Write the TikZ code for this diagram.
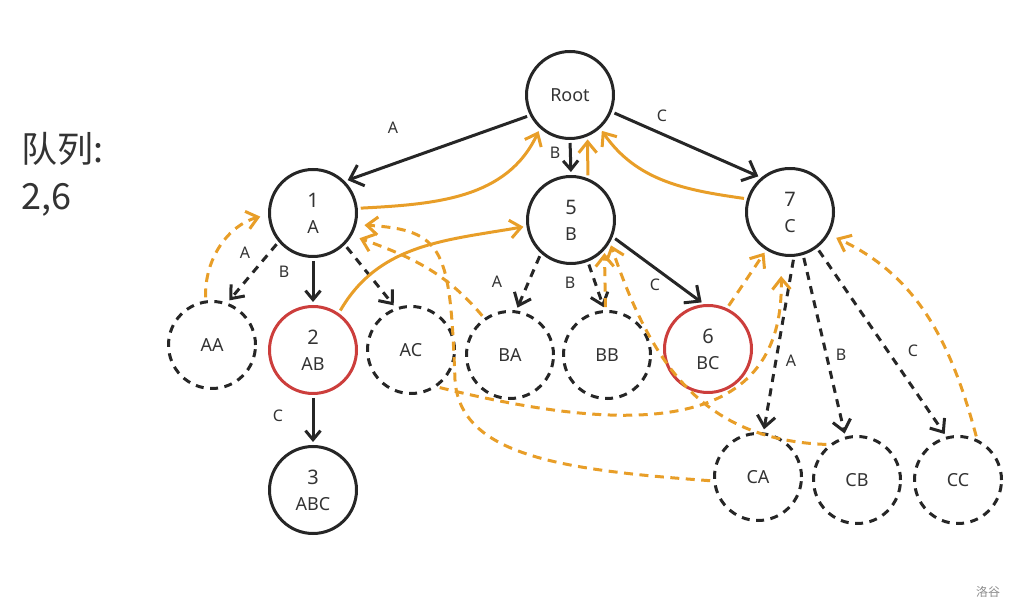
\documentclass[tikz,border=0pt]{standalone}
\usepackage{fontspec}
\setmainfont{Noto Sans}
\newfontfamily\cjk{Noto Sans CJK SC}
\usetikzlibrary{arrows.meta}
\definecolor{failorange}{RGB}{232,158,40}
\definecolor{hitred}{RGB}{204,62,60}
\newcommand\idx[1]{{\fontsize{20}{26}\selectfont #1}}

\begin{document}
\begin{tikzpicture}[x=1pt,y=1pt,
        state/.style={circle,draw=black!85,line width=3pt,minimum size=87pt,inner sep=0pt,align=center,font=\fontsize{18}{26}\selectfont,text=black!80},
        ghost/.style={state,dash pattern=on 8pt off 6.5pt},
        hit/.style={state,draw=hitred},
        lbl/.style={font=\fontsize{16}{16}\selectfont,text=black!80},
        tedge/.style={line width=3pt,draw=black!85,-{Straight Barb[length=9pt,width=15pt]},shorten <=3pt,shorten >=3pt},
        bigedge/.style={tedge,-{Straight Barb[length=12pt,width=22pt]}},
        trie/.style={tedge,dash pattern=on 8pt off 6.5pt,-{Straight Barb[length=11pt,width=18pt]}},
        fail/.style={tedge,draw=failorange,-{Straight Barb[length=11pt,width=18pt]}},
        faildash/.style={fail,dash pattern=on 9pt off 6.5pt}]
                \useasboundingbox (0,0) rectangle (1022,613);

                \node[anchor=base west,font=\cjk\fontsize{36}{36}\selectfont,text=black!80] (qtitle) at (18,450) {队列:};
                \node[anchor=base west,font=\cjk\fontsize{36}{36}\selectfont,text=black!80] (qitems) at (18,403) {2,6};
                \node[font=\cjk\fontsize{12}{12}\selectfont,text=black!45] (mark) at (988,21) {洛谷};

                \node[state] (root) at (570,518) {Root};
                \node[state] (n1) at (313,400) {\idx{1}\\A};
                \node[state] (n5) at (571,393) {\idx{5}\\B};
                \node[state] (n7) at (790,401) {\idx{7}\\C};
                \node[ghost] (aa) at (212,268) {AA};
                \node[hit] (n2) at (313,263) {\idx{2}\\AB};
                \node[ghost] (ac) at (411,263) {AC};
                \node[ghost] (ba) at (510,258) {BA};
                \node[ghost] (bb) at (607,258) {BB};
                \node[hit] (n6) at (708,264) {\idx{6}\\BC};
                \node[state] (n3) at (313,123) {\idx{3}\\ABC};
                \node[ghost] (ca) at (758,136) {CA};
                \node[ghost] (cb) at (857,133) {CB};
                \node[ghost] (cc) at (958,133) {CC};

                % trie edges
                \draw[bigedge] (root.207) -- (n1.45); \draw[tedge] (root.270) -- (n5.90); \draw[bigedge] (root.338) -- (n7.130);
                \draw[trie] (n1.220) -- (aa.70); \draw[tedge] (n1.270) -- (n2.90); \draw[trie] (n1.315) -- (ac.110); \draw[tedge] (n2.270) -- (n3.90);
                \draw[trie] (n5.228) -- (ba.82); \draw[trie] (n5.292) -- (bb.93); \draw[bigedge] (n5.338) -- (n6.95);
                \draw[trie] (n7.275) -- (ca.83); \draw[trie] (n7.287) -- (cb.105); \draw[trie] (n7.307) -- (cc.105);

                \node[lbl] (lra) at (393,485) {A}; \node[lbl] (lrb) at (555,460) {B}; \node[lbl] (lrc) at (662,497) {C};
                \node[lbl] (l1a) at (245,360) {A}; \node[lbl] (l1b) at (284,341) {B}; \node[lbl] (l2c) at (278,197) {C};
                \node[lbl] (l5a) at (497,331) {A}; \node[lbl] (l5b) at (570,330) {B}; \node[lbl] (l5c) at (655,328) {C};
                \node[lbl] (l7a) at (791,252) {A}; \node[lbl] (l7b) at (841,258) {B}; \node[lbl] (l7c) at (913,262) {C};

                % fail links
                \draw[fail] (n1.6) to[out=3,in=245] (root.228); \draw[fail] (n2.55) to[out=60,in=190] (n5.188);
                \draw[fail] (n5.68) -- (root.293); \draw[fail] (n7.163) to[out=172,in=305] (root.312);
                \draw[faildash,shorten >=8pt] (aa.98) to[out=92,in=195] (n1.182);
                \draw[faildash,shorten >=8pt] (ba.125) to[out=130,in=340] (n1.330);
                \draw[faildash,shorten >=8pt] (ca.185) .. controls (560,143) and (460,158) .. (455,233) .. controls (450,363) and (445,383) .. (n1.345);
                \draw[faildash] (bb.92) -- (n5.318);
                \draw[faildash] (cb.128) .. controls (700,173) and (650,253) .. (n5.330);
                \draw[faildash,shorten >=20pt] (ac.305) .. controls (620,181) and (785,173) .. (n7.258);
                \draw[faildash,shorten >=8pt] (cc.65) to[out=105,in=335] (n7.330);
                \draw[faildash] (n6.65) -- (n7.238);
            \end{tikzpicture}
\end{document}
